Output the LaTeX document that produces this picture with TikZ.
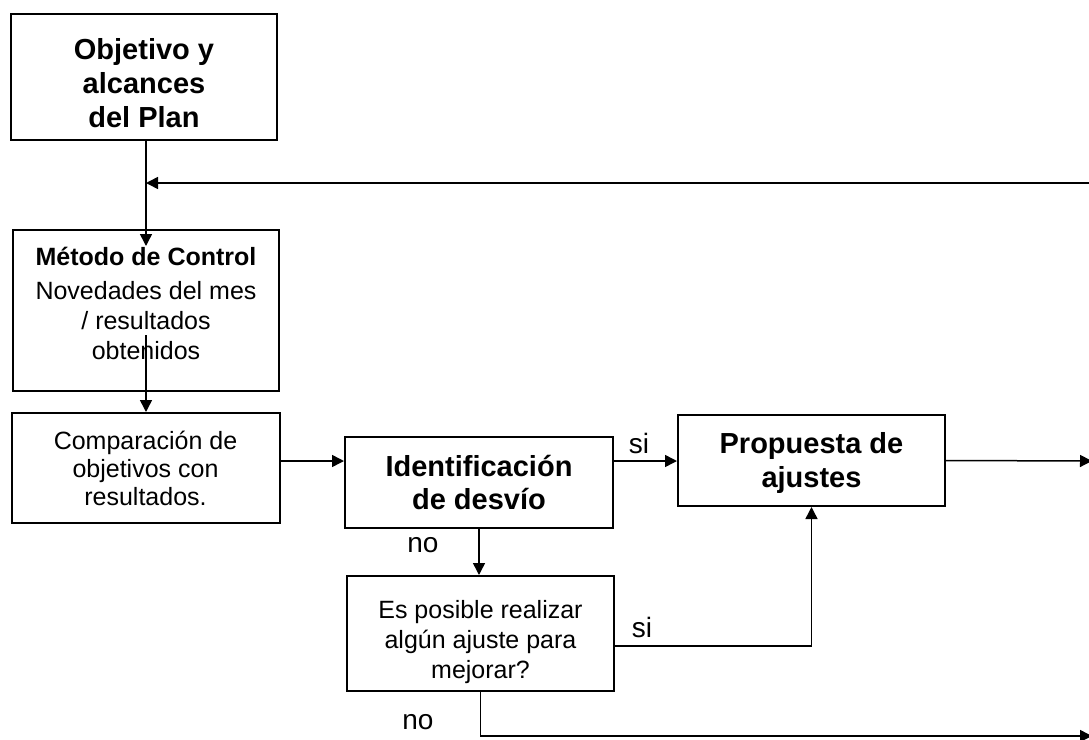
\documentclass[tikz,border=0pt]{standalone}
\usepackage{fontspec}
\setmainfont{Liberation Sans}
\usetikzlibrary{arrows.meta}

\begin{document}
\begin{tikzpicture}[x=0.5pt, y=-0.5pt,
    box/.style={draw, line width=1pt, inner sep=0pt, align=center,
        font=\fontsize{12.5}{14}\selectfont},
    bigbox/.style={box, font=\fontsize{14.5}{17}\selectfont\bfseries},
    link/.style={line width=0.75pt, -{Triangle[length=6pt, width=6pt]}},
    lbl/.style={inner sep=0pt, font=\fontsize{14}{16}\selectfont}]

    % Page frame (arrows run off the right edge)
    \useasboundingbox (0,0) rectangle (1089,740);
    \clip (0,0) rectangle (1089,740);

    % Helper coordinates
    \coordinate (trunk) at (146,0);
    \coordinate (fbStart) at (1092,183);
    \coordinate (metOut) at (146,335);
    \coordinate (metTip) at (146,246);
    \coordinate (rowB) at (0,461);
    \coordinate (rowC) at (0,646);
    \coordinate (rowD) at (0,736);
    \coordinate (outA) at (1092,461);
    \coordinate (outB) at (1092,736);

    % Boxes
    \node[bigbox, minimum width=133pt, minimum height=63pt] (plan) at (144,77)
        {\rule{0pt}{17pt}Objetivo y\\alcances\\del Plan};
    \node[box, minimum width=133pt, minimum height=80.5pt,
        font=\fontsize{12.5}{15}\selectfont] (metodo) at (146,310.5)
        {\textbf{Método de Control}\\[2pt]Novedades del mes\\/ resultados\\
         \raisebox{0pt}[\height][\dimexpr\depth+7pt]{obtenidos}};
    \node[box, minimum width=134pt, minimum height=55pt] (comp) at (145.5,468)
        {Comparación de\\objetivos con\\resultados.};
    \node[bigbox, minimum width=134pt, minimum height=45.5pt] (ident) at (479,482.5)
        {Identificación\\de desvío};
    \node[bigbox, minimum width=133.5pt, minimum height=45.5pt] (prop) at (811.5,460.5)
        {\rule{0pt}{13pt}Propuesta de\\ajustes};
    \node[box, minimum width=133.5pt, minimum height=57.5pt,
        font=\fontsize{12.5}{15}\selectfont] (posible) at (480.5,633.5)
        {\rule{0pt}{18pt}Es posible realizar\\algún ajuste para\\mejorar?};

    % Main flow
    \draw[link] (plan.south -| trunk) -- (metTip);
    \draw[link] (fbStart) -- (trunk |- fbStart);
    \draw[link] (metOut) -- (metOut |- comp.north);
    \draw[link] (comp.east |- rowB) -- (ident.west |- rowB);
    \draw[link] (ident.east |- rowB) -- (prop.west |- rowB);
    \draw[link] (prop.east) -- (outA);

    % Decision branches
    \draw[link] (ident.south) -- (ident.south |- posible.north);
    \draw[link] (posible.east |- rowC) -- (prop.south |- rowC) -- (prop.south);
    \draw[link] (posible.south) -- (posible.south |- rowD) -- (outB);

    % Branch labels
    \node[lbl] (si1) at (639,443) {si};
    \node[lbl] (no1) at (423,545) {no};
    \node[lbl] (si2) at (642,627) {si};
    \node[lbl] (no2) at (418,722) {no};

\end{tikzpicture}
\end{document}
